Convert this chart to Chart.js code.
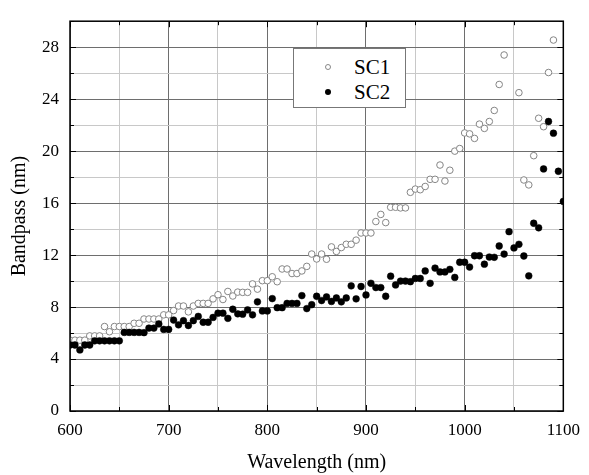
<!DOCTYPE html>
<html>
<head>
<meta charset="utf-8">
<script src="https://cdn.jsdelivr.net/npm/chart.js@4.4.0/dist/chart.umd.min.js"></script>
<style>
  html, body { margin: 0; padding: 0; background: #fff; }
  #wrap { position: relative; width: 589px; height: 475px; }
  #legend {
    position: absolute; left: 293px; top: 48px; width: 113px; height: 60px;
    border: 1px solid #777; background: #fff; box-sizing: border-box;
    font-family: "Liberation Serif", "Times New Roman", serif; font-size: 21px; color: #000;
  }
  #legend .item { position: absolute; left: 0; width: 100%; height: 24px; line-height: 24px; }
  #legend .mark { position: absolute; left: 31px; top: 9px; width: 6px; height: 6px; border-radius: 50%; box-sizing: border-box; }
  #legend .label { position: absolute; left: 60px; top: 0; }
</style>
</head>
<body>
<div id="wrap">
  <canvas id="chart" width="589" height="475"></canvas>
  <div id="legend">
    <div class="item" style="top:6px"><span class="mark" style="border:1px solid #888;background:#fff"></span><span class="label">SC1</span></div>
    <div class="item" style="top:31px"><span class="mark" style="background:#000"></span><span class="label">SC2</span></div>
  </div>
</div>
<script>
// wavelengths (nm)
const wavelengths = [
  600, 605, 610, 615, 620, 625, 630, 635, 640, 645,
  650, 655, 660, 665, 670, 675, 680, 685, 690, 695,
  700, 705, 710, 715, 720, 725, 730, 735, 740, 745,
  750, 755, 760, 765, 770, 775, 780, 785, 790, 795,
  800, 805, 810, 815, 820, 825, 830, 835, 840, 845,
  850, 855, 860, 865, 870, 875, 880, 885, 890, 895,
  900, 905, 910, 915, 920, 925, 930, 935, 940, 945,
  950, 955, 960, 965, 970, 975, 980, 985, 990, 995,
  1000, 1005, 1010, 1015, 1020, 1025, 1030, 1035, 1040, 1045,
  1050, 1055, 1060, 1065, 1070, 1075, 1080, 1085, 1090, 1095,
  1100
];

// bandpass SC1 (nm)
const sc1 = [
  5.45, 5.45, 5.45, 5.45, 5.78, 5.78, 5.78, 6.5, 6.1, 6.5,
  6.5, 6.5, 6.5, 6.75, 6.75, 7.08, 7.08, 7.08, 7.08, 7.4,
  7.4, 7.73, 8.08, 8.08, 7.63, 8.08, 8.28, 8.28, 8.28, 8.63,
  8.95, 8.58, 9.2, 8.85, 9.15, 9.13, 9.13, 9.78, 9.38, 10.03,
  10.03, 10.33, 9.95, 10.93, 10.93, 10.58, 10.58, 10.78, 11.13, 12.08,
  11.7, 12.08, 11.68, 12.63, 12.28, 12.58, 12.83, 12.83, 13.15, 13.7,
  13.7, 13.7, 14.58, 15.13, 14.5, 15.68, 15.68, 15.63, 15.63, 16.83,
  17.08, 17.03, 17.28, 17.83, 17.83, 18.93, 17.7, 18.53, 20.0, 20.2,
  21.4, 21.33, 20.98, 22.08, 21.75, 22.28, 23.13, 25.13, 27.4, null,
  null, 24.5, 17.78, 17.4, 19.65, 22.53, 21.88, 26.05, 28.55, null,
  null
];

// bandpass SC2 (nm)
const sc2 = [
  5.08, 5.08, 4.7, 5.08, 5.08, 5.4, 5.4, 5.4, 5.4, 5.4,
  5.4, 6.05, 6.05, 6.05, 6.05, 6.03, 6.38, 6.38, 6.7, 6.28,
  6.28, 7.0, 6.63, 6.95, 6.58, 6.95, 7.28, 6.83, 6.83, 7.2,
  7.53, 7.53, 7.13, 7.83, 7.48, 7.45, 7.78, 7.4, 8.4, 7.7,
  7.7, 8.65, 7.95, 7.95, 8.28, 8.28, 8.28, 8.88, 7.88, 8.18,
  8.83, 8.5, 8.78, 8.43, 8.7, 8.4, 8.7, 9.63, 8.63, 9.58,
  8.93, 9.83, 9.5, 9.5, 8.83, 10.38, 9.7, 10.0, 10.0, 9.95,
  10.2, 10.2, 10.78, 9.83, 11.0, 10.7, 10.7, 10.9, 10.28, 11.45,
  11.45, 11.08, 11.95, 11.95, 11.3, 11.85, 11.83, 12.7, 12.08, 13.8,
  12.55, 12.83, 11.93, 10.4, 14.45, 14.1, 18.63, 22.28, 21.38, 18.45,
  16.13
];

const xTicksMajor = [600, 700, 800, 900, 1000, 1100];
const yTicksMajor = [0, 4, 8, 12, 16, 20, 24, 28];

const toPoints = (ys) => wavelengths.map((x, i) => ({ x: x, y: ys[i] }));

const serif = "'Liberation Serif', 'Times New Roman', serif";

// frame around the plot area plus inward tick marks on all four sides
const frameTicks = {
  id: 'frameTicks',
  afterDraw(chart) {
    const { ctx, chartArea: a, scales } = chart;
    ctx.save();
    ctx.strokeStyle = '#000';
    ctx.lineWidth = 1;
    ctx.beginPath();
    scales.x.ticks.forEach(t => {
      const px = Math.round(scales.x.getPixelForValue(t.value)) + 0.5;
      const len = xTicksMajor.includes(t.value) ? 6 : 4;
      ctx.moveTo(px, a.bottom); ctx.lineTo(px, a.bottom - len);
      ctx.moveTo(px, a.top); ctx.lineTo(px, a.top + len);
    });
    scales.y.ticks.forEach(t => {
      const py = Math.round(scales.y.getPixelForValue(t.value)) + 0.5;
      const len = yTicksMajor.includes(t.value) ? 6 : 4;
      ctx.moveTo(a.left, py); ctx.lineTo(a.left + len, py);
      ctx.moveTo(a.right, py); ctx.lineTo(a.right - len, py);
    });
    ctx.stroke();
    ctx.lineWidth = 1.5;
    ctx.strokeRect(a.left, a.top, a.right - a.left, a.bottom - a.top);
    ctx.restore();
  }
};

new Chart(document.getElementById('chart').getContext('2d'), {
  type: 'scatter',
  data: {
    datasets: [
      {
        label: 'SC1',
        data: toPoints(sc1),
        pointStyle: 'circle',
        pointRadius: 3.3,
        pointBorderWidth: 1,
        pointBorderColor: '#858585',
        pointBackgroundColor: '#fff',
        order: 2
      },
      {
        label: 'SC2',
        data: toPoints(sc2),
        pointStyle: 'circle',
        pointRadius: 3.4,
        pointBorderWidth: 0.5,
        pointBorderColor: '#000',
        pointBackgroundColor: '#000',
        order: 1
      }
    ]
  },
  options: {
    responsive: false,
    animation: false,
    layout: { padding: { left: 0, right: 24, top: 12, bottom: 0 } },
    plugins: {
      legend: { display: false },
      tooltip: { enabled: false }
    },
    scales: {
      x: {
        type: 'linear',
        min: 600,
        max: 1100,
        afterFit: (s) => { s.height = 64; },
        border: { display: false },
        grid: {
          drawTicks: false,
          color: (c) => (c.tick && c.tick.value % 100 === 0) ? '#6e6e6e' : '#c8c8c8',
          lineWidth: 1
        },
        ticks: {
          stepSize: 50,
          autoSkip: false,
          maxRotation: 0,
          padding: 9,
          color: '#000',
          font: { family: serif, size: 17 },
          callback: (v) => xTicksMajor.includes(v) ? String(v) : ''
        },
        title: {
          display: true,
          text: 'Wavelength (nm)',
          color: '#000',
          font: { family: serif, size: 20 },
          padding: { top: 0, bottom: 0 }
        }
      },
      y: {
        type: 'linear',
        min: 0,
        max: 30,
        afterFit: (s) => { s.width = 70; },
        border: { display: false },
        grid: {
          drawTicks: false,
          color: (c) => (c.tick && c.tick.value % 4 === 0) ? '#6e6e6e' : '#c8c8c8',
          lineWidth: 1
        },
        ticks: {
          stepSize: 2,
          autoSkip: false,
          padding: 11,
          color: '#000',
          font: { family: serif, size: 17 },
          callback: (v) => yTicksMajor.includes(v) ? String(v) : ''
        },
        title: {
          display: true,
          text: 'Bandpass (nm)',
          color: '#000',
          font: { family: serif, size: 20 },
          padding: { top: 8, bottom: 0 }
        }
      }
    }
  },
  plugins: [frameTicks]
});
</script>
</body>
</html>
